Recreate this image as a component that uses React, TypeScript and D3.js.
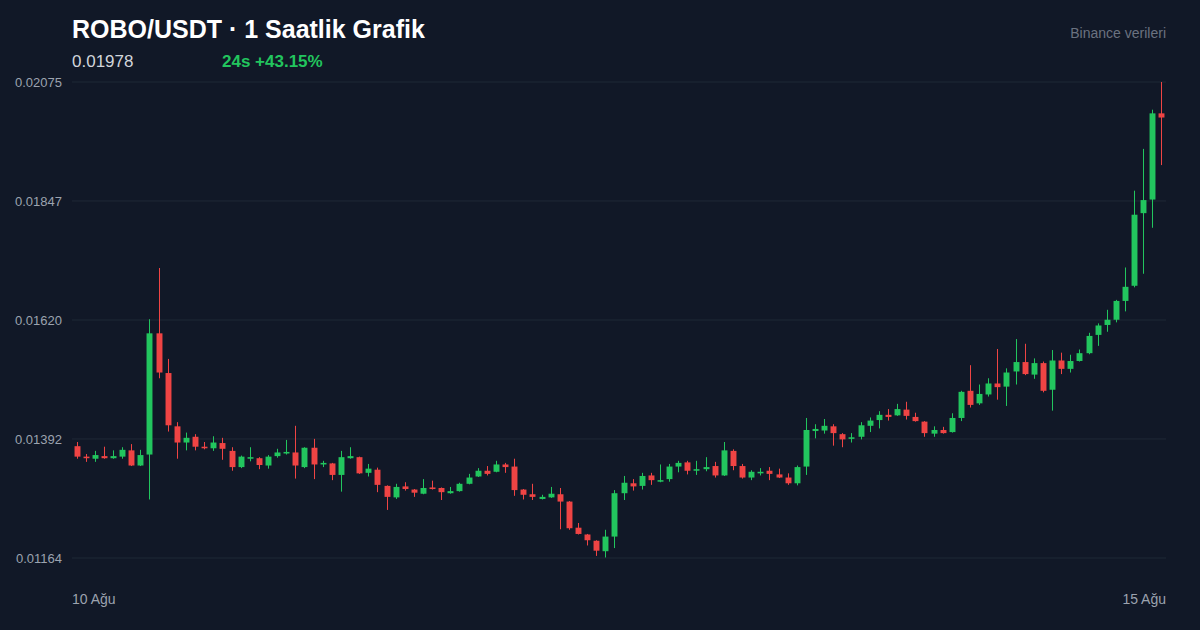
import React from "react";
import * as d3 from "d3";

const W = 1200;
const H = 630;

const openP = [
  0.01378, 0.01358, 0.01354, 0.01359, 0.01355, 0.01358, 0.0137, 0.01341, 0.01362, 0.01594,
  0.01518, 0.01416, 0.01385, 0.01396, 0.01377, 0.01374, 0.01384, 0.01369, 0.01338, 0.01354,
  0.01355, 0.01341, 0.01359, 0.01364, 0.01366, 0.01338, 0.01375, 0.01343, 0.01345, 0.01323,
  0.01355, 0.01357, 0.01327, 0.01333, 0.01302, 0.0128, 0.01301, 0.01295, 0.01287, 0.01299,
  0.01298, 0.01288, 0.01292, 0.01306, 0.0132, 0.01331, 0.01329, 0.01343, 0.01339, 0.01295,
  0.01286, 0.01277, 0.0128, 0.01286, 0.01272, 0.01222, 0.01209, 0.01197, 0.01177, 0.01205,
  0.01288, 0.01307, 0.01302, 0.01322, 0.0131, 0.01315, 0.01339, 0.01347, 0.01331, 0.01334,
  0.0134, 0.01322, 0.01369, 0.0134, 0.01318, 0.01326, 0.01331, 0.01324, 0.01318, 0.01307,
  0.01339, 0.01407, 0.01408, 0.01416, 0.01401, 0.01392, 0.01396, 0.01417, 0.01428, 0.01438,
  0.01437, 0.01448, 0.01434, 0.01425, 0.01402, 0.01409, 0.01405, 0.01432, 0.01484, 0.0146,
  0.01477, 0.01498, 0.01492, 0.01521, 0.01539, 0.01515, 0.01537, 0.01486, 0.01542, 0.01526,
  0.01541, 0.01556, 0.01591, 0.0161, 0.0162, 0.01656, 0.01685, 0.01824, 0.0185, 0.02015,
];
const highP = [
  0.01386, 0.01363, 0.01369, 0.01377, 0.0137, 0.01376, 0.01382, 0.01371, 0.01621, 0.01719,
  0.01545, 0.01424, 0.01404, 0.01401, 0.01386, 0.01397, 0.01394, 0.01376, 0.0136, 0.01376,
  0.01357, 0.01361, 0.01373, 0.0139, 0.01417, 0.01376, 0.01392, 0.0135, 0.01346, 0.01369,
  0.01376, 0.01358, 0.01344, 0.01337, 0.01303, 0.01306, 0.01309, 0.01296, 0.01315, 0.01312,
  0.01299, 0.013, 0.01308, 0.01325, 0.01336, 0.0134, 0.0135, 0.01346, 0.01354, 0.01296,
  0.01306, 0.01285, 0.013, 0.01298, 0.01273, 0.01231, 0.0121, 0.01198, 0.01218, 0.01294,
  0.01321, 0.01315, 0.01327, 0.01327, 0.01343, 0.01344, 0.0135, 0.0135, 0.0135, 0.01357,
  0.01348, 0.01386, 0.01372, 0.01344, 0.01332, 0.01336, 0.01338, 0.01335, 0.01326, 0.01341,
  0.01432, 0.0142, 0.0143, 0.0142, 0.01403, 0.01403, 0.01424, 0.01433, 0.01445, 0.01449,
  0.01459, 0.01463, 0.01442, 0.01426, 0.01416, 0.01415, 0.01441, 0.01484, 0.01533, 0.01496,
  0.01508, 0.01564, 0.01527, 0.01583, 0.01574, 0.01546, 0.0154, 0.01562, 0.01557, 0.01553,
  0.01563, 0.01595, 0.01613, 0.01639, 0.01658, 0.0172, 0.01867, 0.01947, 0.02022, 0.02075,
];
const lowP = [
  0.01354, 0.01348, 0.01348, 0.01354, 0.01354, 0.01354, 0.0134, 0.0134, 0.01276, 0.01508,
  0.01406, 0.01354, 0.0137, 0.0137, 0.01372, 0.01369, 0.01352, 0.01331, 0.01336, 0.01349,
  0.01334, 0.01335, 0.01356, 0.01362, 0.01316, 0.01336, 0.01315, 0.01338, 0.01313, 0.01291,
  0.01354, 0.01325, 0.0132, 0.0129, 0.01256, 0.01277, 0.01293, 0.01281, 0.01286, 0.01295,
  0.01275, 0.01287, 0.01291, 0.01305, 0.01319, 0.01322, 0.01328, 0.01327, 0.01283, 0.01276,
  0.01275, 0.01276, 0.01279, 0.01219, 0.01218, 0.01209, 0.01188, 0.01168, 0.01165, 0.01183,
  0.01275, 0.01293, 0.01295, 0.01304, 0.01309, 0.0131, 0.01328, 0.01324, 0.01323, 0.0133,
  0.01318, 0.01321, 0.01332, 0.01316, 0.01313, 0.01322, 0.01313, 0.01317, 0.01304, 0.01303,
  0.01323, 0.01393, 0.01402, 0.01379, 0.01376, 0.01385, 0.01391, 0.01405, 0.01412, 0.01427,
  0.01436, 0.01429, 0.01425, 0.01396, 0.01396, 0.01402, 0.01404, 0.01426, 0.01452, 0.01457,
  0.01473, 0.01467, 0.01455, 0.01496, 0.01514, 0.01507, 0.01481, 0.01446, 0.01516, 0.01519,
  0.0154, 0.01554, 0.0157, 0.01597, 0.01615, 0.01636, 0.01682, 0.01708, 0.01796, 0.01916,
];
const closeP = [
  0.01358, 0.01355, 0.01361, 0.01355, 0.01359, 0.01371, 0.01341, 0.01361, 0.01594, 0.01519,
  0.01418, 0.01385, 0.01394, 0.01377, 0.01374, 0.01385, 0.01373, 0.01338, 0.01358, 0.01357,
  0.01342, 0.01358, 0.01366, 0.01367, 0.01341, 0.01375, 0.01343, 0.01346, 0.01323, 0.01357,
  0.01359, 0.01326, 0.01335, 0.01304, 0.01281, 0.013, 0.01296, 0.01289, 0.01298, 0.01296,
  0.0129, 0.01292, 0.01306, 0.01318, 0.01331, 0.01325, 0.01343, 0.01338, 0.01294, 0.01285,
  0.01281, 0.01281, 0.01287, 0.01272, 0.01221, 0.0121, 0.01198, 0.01178, 0.01205, 0.01288,
  0.01308, 0.01301, 0.01321, 0.01313, 0.01313, 0.01339, 0.01346, 0.01331, 0.01334, 0.01338,
  0.01322, 0.0137, 0.0134, 0.01318, 0.01329, 0.01329, 0.01325, 0.01318, 0.01307, 0.01338,
  0.01409, 0.01411, 0.01417, 0.01403, 0.01391, 0.01395, 0.01418, 0.01427, 0.01438, 0.01434,
  0.01449, 0.01436, 0.01426, 0.01403, 0.01409, 0.01403, 0.01432, 0.01482, 0.01457, 0.01478,
  0.01498, 0.01491, 0.01519, 0.01539, 0.01516, 0.01537, 0.01484, 0.01542, 0.01526, 0.01541,
  0.01556, 0.01589, 0.01609, 0.0162, 0.01656, 0.01683, 0.01821, 0.01849, 0.02015, 0.02007,
];

const hours = d3.range(openP.length);
const yTickValues = [0.01164, 0.013918, 0.016195, 0.018473, 0.02075];
const yTickLabels = ["0.01164", "0.01392", "0.01620", "0.01847", "0.02075"];
const xTickLabels = ["10 Ağu", "15 Ağu"];

const title = "ROBO/USDT · 1 Saatlik Grafik";
const lastPrice = "0.01978";
const change = "24s +43.15%";
const source = "Binance verileri";

const FONT = "'Liberation Sans', Arial, Helvetica, sans-serif";
const UP = "#22c55e";
const DOWN = "#ef4444";

export default function App() {
  const left = 72;
  const right = 1166;
  const top = 82;
  const bottom = 558;

  const x = d3.scaleBand<number>().domain(hours).range([left, right]).paddingInner(0.35).paddingOuter(0.175);
  const y = d3.scaleLinear().domain([0.01164, 0.02075]).range([bottom, top]);
  const bw = x.bandwidth();

  return (
    <svg width={W} height={H} style={{ display: "block", position: "absolute", left: 0, top: 0 }}>
      <rect x={0} y={0} width={W} height={H} fill="#111827" />
      <text x={72} y={38} fill="#ffffff" fontFamily={FONT} fontWeight={700} fontSize={25}>
        {title}
      </text>
      <text x={72} y={67} fill="#d1d5db" fontFamily={FONT} fontSize={17}>
        {lastPrice}
      </text>
      <text x={222} y={67} fill={UP} fontFamily={FONT} fontWeight={700} fontSize={17}>
        {change}
      </text>
      <text x={1166} y={38} fill="#6b7280" fontFamily={FONT} fontSize={14} textAnchor="end">
        {source}
      </text>

      {yTickValues.map((v, i) => (
        <g key={i}>
          <line x1={left} x2={right} y1={y(v)} y2={y(v)} stroke="#1f2937" strokeWidth={1} />
          <text
            x={62}
            y={y(v)}
            dy="0.35em"
            textAnchor="end"
            fill="#9ca3af"
            fontFamily={FONT}
            fontSize={13}
          >
            {yTickLabels[i]}
          </text>
        </g>
      ))}

      {hours.map((h) => {
        const o = openP[h];
        const c = closeP[h];
        const up = c >= o;
        const col = up ? UP : DOWN;
        const cx = Math.round((x(h) as number) + bw / 2) + 0.5;
        const yTop = y(Math.max(o, c));
        const yBot = y(Math.min(o, c));
        return (
          <g key={h}>
            <line x1={cx} x2={cx} y1={y(highP[h])} y2={y(lowP[h])} stroke={col} strokeWidth={1} />
            <rect
              x={cx - bw / 2}
              y={yTop}
              width={bw}
              height={Math.max(1.5, yBot - yTop)}
              fill={col}
            />
          </g>
        );
      })}

      <text x={72} y={604} fill="#9ca3af" fontFamily={FONT} fontSize={14}>
        {xTickLabels[0]}
      </text>
      <text x={1166} y={604} fill="#9ca3af" fontFamily={FONT} fontSize={14} textAnchor="end">
        {xTickLabels[1]}
      </text>
    </svg>
  );
}
